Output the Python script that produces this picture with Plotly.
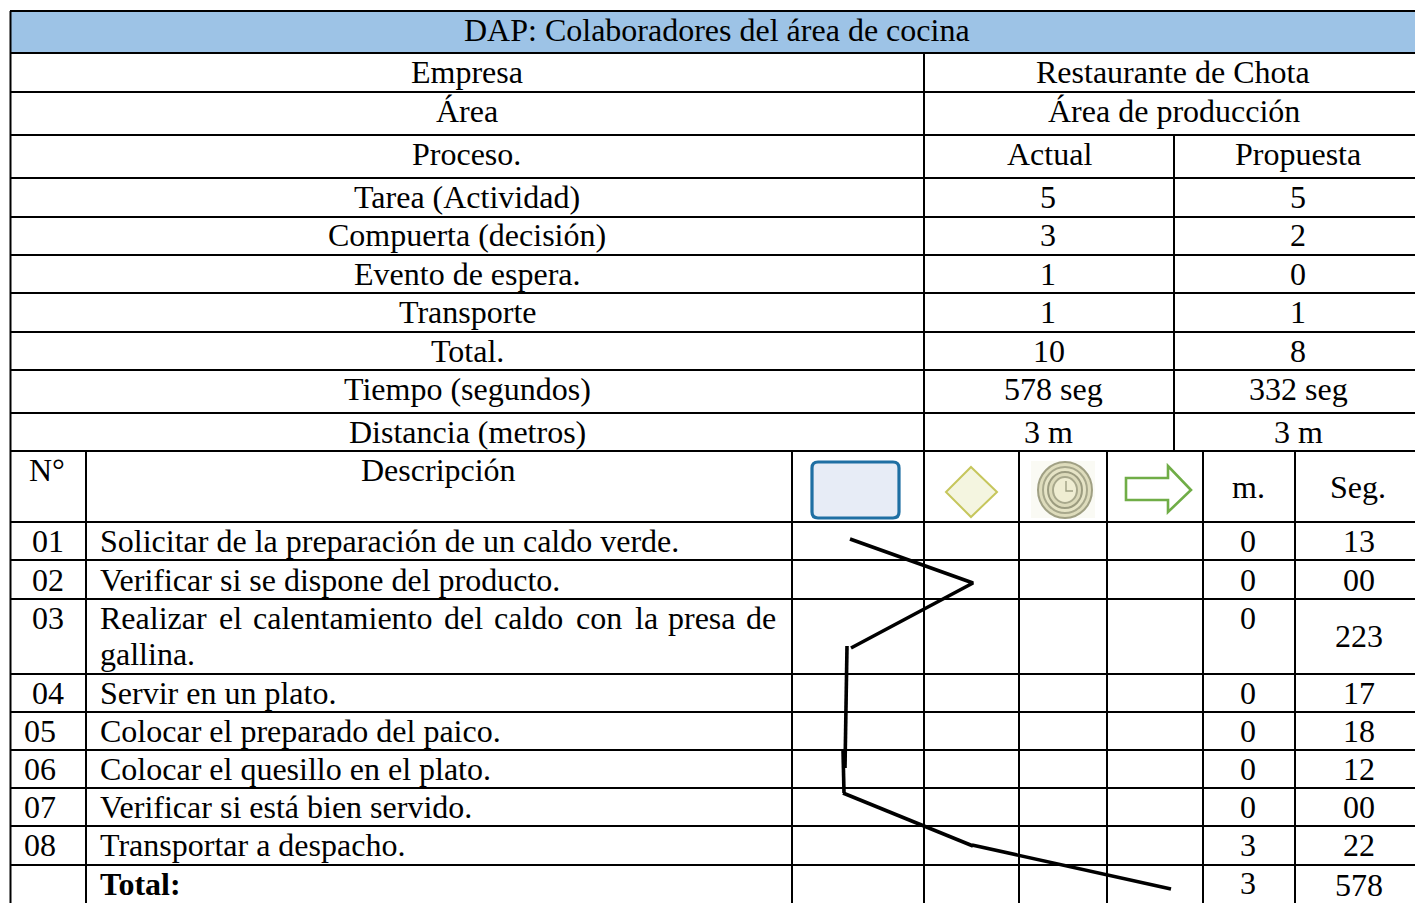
import plotly.graph_objects as go

W, H = 1415, 903
FONT = "Liberation Serif"
FS = 32

title = "DAP: Colaboradores del área de cocina"
summary_labels = ["Tarea (Actividad)", "Compuerta (decisión)", "Evento de espera.", "Transporte",
                  "Total.", "Tiempo (segundos)", "Distancia (metros)"]
summary_actual = ["5", "3", "1", "1", "10", "578 seg", "3 m"]
summary_prop = ["5", "2", "0", "1", "8", "332 seg", "3 m"]
row_ids = ["01", "02", "03", "04", "05", "06", "07", "08"]
row_desc = ["Solicitar de la preparación de un caldo verde.",
            "Verificar si se dispone del producto.",
            "",
            "Servir en un plato.",
            "Colocar el preparado del paico.",
            "Colocar el quesillo en el plato.",
            "Verificar si está bien servido.",
            "Transportar a despacho."]
row_m = ["0", "0", "0", "0", "0", "0", "0", "3"]
row_seg = ["13", "00", "223", "17", "18", "12", "00", "22"]
total_m, total_seg = "3", "578"
justified_words = ["Realizar", "el", "calentamiento", "del", "caldo", "con", "la", "presa", "de"]

flow_segments = [
    ([850, 973, 851], [539, 583, 648]),
    ([847, 845], [646, 768]),
    ([843, 844], [750, 793]),
    ([843, 973], [793, 846]),
    ([972, 1171], [845, 889]),
]

# layout guides (pixels)
summary_y = [197, 235, 274, 312, 351, 389, 432]
row_y = [541, 580, 618, 693, 731, 769, 807, 845]
row_id_x = [48, 48, 48, 48, 40, 40, 40, 40]
seg_y = [541, 580, 636, 693, 731, 769, 807, 845]
word_x = [99, 218, 252, 443, 493, 575, 634, 667, 745]
seg_actual_x = [1048, 1048, 1048, 1048, 1049, 1053, 1048]

fig = go.Figure()
shapes, ann = [], []


def line(x0, y0, x1, y1):
    shapes.append(dict(type="line", x0=x0, y0=y0, x1=x1, y1=y1, line=dict(color="black", width=2), layer="above"))


def text(x, y, s, anchor="center", bold=False, size=FS):
    ann.append(dict(x=x, y=y, text=f"<b>{s}</b>" if bold else s, showarrow=False, xanchor=anchor, yanchor="middle",
                    font=dict(family=FONT, size=size, color="black"), xref="x", yref="y", borderpad=0))


# header fill
shapes.append(dict(type="rect", x0=10, y0=11, x1=W, y1=53, fillcolor="#9DC3E6", line=dict(width=0), layer="below"))

# horizontal rules
for y in [11, 53, 92, 135, 178, 217, 255, 293, 332, 370, 413, 451, 522, 560, 599, 674, 712, 750, 788, 826, 865]:
    line(10, y, W, y)
# vertical rules
line(10.5, 11, 10.5, H)
line(924, 53, 924, 451)
line(1174, 135, 1174, 451)
for x in [86, 792, 924, 1019, 1107, 1203, 1295]:
    line(x, 451, x, H)

# text
text(717, 30, title)
text(467, 72, "Empresa")
text(1173, 72, "Restaurante de Chota")
text(467, 111, "Área")
text(1174, 111, "Área de producción")
text(466, 154, "Proceso.")
text(1049, 154, "Actual")
text(1298, 154, "Propuesta")
for lab, a, p, y, ax in zip(summary_labels, summary_actual, summary_prop, summary_y, seg_actual_x):
    text(467, y, lab)
    text(ax, y, a)
    text(1298, y, p)

text(47, 470, "N°")
text(438, 470, "Descripción")
text(1248, 487, "m.")
text(1358, 487, "Seg.")
for i, (rid, d, m, s) in enumerate(zip(row_ids, row_desc, row_m, row_seg)):
    text(row_id_x[i], row_y[i], rid)
    if d:
        text(99, row_y[i], d, anchor="left")
    text(1248, row_y[i], m)
    text(1359, seg_y[i], s)
for w, x in zip(justified_words, word_x):
    text(x, 618, w, anchor="left")
text(99, 654, "gallina.", anchor="left")
text(99, 884, "Total:", anchor="left", bold=True)
text(1248, 883, total_m)
text(1359, 885, total_seg)

# icons
shapes.append(dict(type="path", path="M 818,462 L 893,462 Q 899,462 899,468 L 899,512 Q 899,518 893,518 L 818,518 Q 812,518 812,512 L 812,468 Q 812,462 818,462 Z",
                   fillcolor="#E7ECF6", line=dict(color="#1F6FA3", width=3.2), layer="above"))
shapes.append(dict(type="path", path="M 971,467 L 997,492 L 971,517 L 946,492 Z",
                   fillcolor="#F4F5E0", line=dict(color="#C6C65C", width=2), layer="above"))
shapes.append(dict(type="rect", x0=1031, y0=461, x1=1095, y1=518, fillcolor="#FAFAF4", line=dict(width=0), layer="above"))
for rx, ry, fc, lc in [(27, 28, "#DEDCBC", "#A0A084"), (22, 23, "#E6E4C6", "#A8A88C"), (17, 18, "#DCDABA", "#9C9C80"), (12, 13, "#EFEDD2", "#A8A88C")]:
    shapes.append(dict(type="circle", x0=1065 - rx, y0=490 - ry, x1=1065 + rx, y1=490 + ry,
                       fillcolor=fc, line=dict(color=lc, width=2), layer="above"))
shapes.append(dict(type="path", path="M 1066,481 L 1066,491 L 1073,491", line=dict(color="#A0A084", width=1.4), layer="above"))
shapes.append(dict(type="path", path="M 1126,478 L 1168,478 L 1168,466 L 1191,490 L 1168,512 L 1168,500 L 1126,500 Z",
                   fillcolor="white", line=dict(color="#70AD47", width=2.6), layer="above"))

# flow line
for xs, ys in flow_segments:
    fig.add_trace(go.Scatter(x=xs, y=ys, mode="lines", line=dict(color="black", width=3.6), showlegend=False, hoverinfo="skip"))

fig.update_layout(width=W, height=H, margin=dict(l=0, r=0, t=0, b=0), plot_bgcolor="white", paper_bgcolor="white",
                  shapes=shapes, annotations=ann, showlegend=False,
                  xaxis=dict(range=[0, W], visible=False, fixedrange=True),
                  yaxis=dict(range=[H, 0], visible=False, fixedrange=True))
fig.write_html("out.html", config=dict(displayModeBar=False), default_width=f"{W}px", default_height=f"{H}px",
               post_script="document.body.style.margin='0';document.body.style.overflow='hidden';")
